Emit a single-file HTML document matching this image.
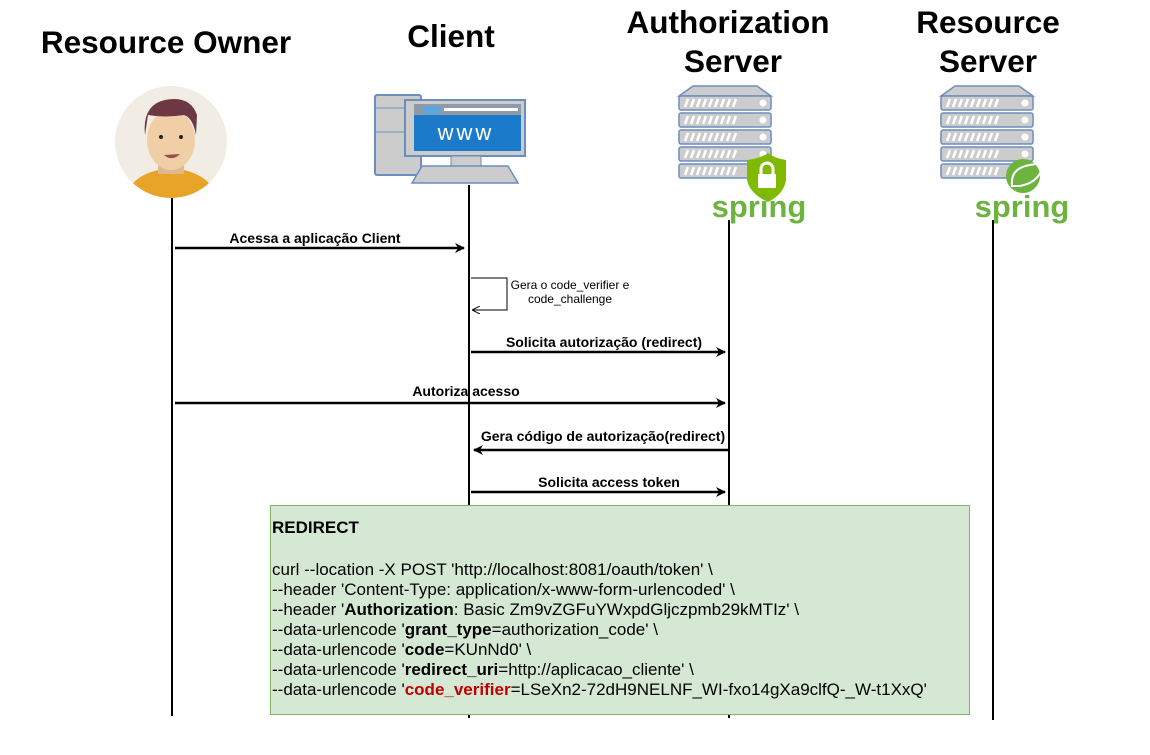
<!DOCTYPE html>
<html><head><meta charset="utf-8"><style>
body{margin:0;background:#fff;width:1150px;height:750px;overflow:hidden;font-family:"Liberation Sans",sans-serif;}
</style></head><body>
<svg width="1150" height="750" xmlns="http://www.w3.org/2000/svg" font-family="Liberation Sans, sans-serif">
<defs>
<marker id="ah" markerWidth="10" markerHeight="10" refX="9" refY="5" orient="auto" markerUnits="userSpaceOnUse"><path d="M0,0 L10,5 L0,10 L3,5 Z" fill="#000"/></marker>
<marker id="ah2" markerWidth="8" markerHeight="8" refX="7" refY="4" orient="auto" markerUnits="userSpaceOnUse"><path d="M0,0 L8,4 L0,8" fill="none" stroke="#000" stroke-width="1"/></marker>
<g id="srv">
<path d="M14,0 L78,0 L92,10 L0,10 Z" fill="#ccc" stroke="#6c8ebf" stroke-width="1.5"/>
<g id="unit"><rect x="0" y="10" width="92" height="14" rx="2" fill="#ccc" stroke="#6c8ebf" stroke-width="1.5"/>
<path d="M6,21 l3,-8 M12,21 l3,-8 M18,21 l3,-8 M24,21 l3,-8 M30,21 l3,-8 M36,21 l3,-8 M42,21 l3,-8 M48,21 l3,-8 M54,21 l3,-8" stroke="#fff" stroke-width="2.5"/>
<circle cx="84" cy="17" r="3.5" fill="#fff"/></g>
<use href="#unit" y="17"/><use href="#unit" y="34"/><use href="#unit" y="51"/><use href="#unit" y="68"/>
</g>
</defs>
<g font-weight="bold" font-size="31.5" text-anchor="middle" fill="#000">
<text x="166" y="53">Resource Owner</text>
<text x="451" y="47">Client</text>
<text x="728" y="33">Authorization</text>
<text x="733" y="72">Server</text>
<text x="988" y="33">Resource</text>
<text x="988" y="72">Server</text>
</g>
<!-- person -->
<circle cx="171" cy="142" r="56" fill="#f2ede4"/>
<clipPath id="pc"><circle cx="171" cy="142" r="56"/></clipPath>
<g clip-path="url(#pc)">
<path d="M125,200 Q130,172 171,168 Q212,172 217,200 Z" fill="#e8a427"/>
<rect x="158" y="150" width="26" height="24" fill="#dfb88f"/>
<ellipse cx="171" cy="140" rx="24" ry="30" fill="#f0cfa6"/>
<path d="M145,135 Q142,105 165,100 Q190,95 197,115 L196,135 Q193,118 184,115 Q165,118 148,115 Z" fill="#6e3744"/>
<circle cx="161" cy="137" r="2" fill="#222"/><circle cx="181" cy="137" r="2" fill="#222"/>
<path d="M164,155 Q172,162 180,154" fill="#9a5048"/>
</g>
<!-- computer -->
<rect x="375" y="95" width="46" height="80" rx="2" fill="#ccc" stroke="#6c8ebf" stroke-width="2"/>
<line x1="375" y1="108" x2="407" y2="108" stroke="#6c8ebf"/><line x1="375" y1="132" x2="407" y2="132" stroke="#6c8ebf"/>
<rect x="405" y="100" width="120" height="56" fill="#ccc" stroke="#6c8ebf" stroke-width="2"/>
<rect x="414" y="104" width="107" height="12" fill="#8e9aa8"/>
<rect x="414" y="115" width="107" height="36" fill="#1c7acb"/>
<ellipse cx="432" cy="110" rx="9" ry="4.5" fill="#5aa7de"/>
<rect x="444" y="108" width="74" height="3" fill="#fff"/>
<text x="466" y="140" font-size="22" fill="#fff" text-anchor="middle" letter-spacing="3">www</text>
<rect x="451" y="156" width="30" height="10" fill="#ccc" stroke="#6c8ebf"/>
<path d="M422,166 L508,166 L518,183 L412,183 Z" fill="#ccc" stroke="#6c8ebf" stroke-width="1.5"/>
<!-- servers -->
<use href="#srv" x="679" y="86"/>
<use href="#srv" x="941" y="86"/>
<path d="M747,160 Q762,158 768,153 Q774,158 786,160 L786,180 Q784,194 768,202 Q750,194 747,180 Z" fill="#7fba00"/>
<rect x="758" y="174" width="18" height="14" rx="1" fill="#fff"/>
<path d="M761,175 L761,169 A6,6 0 0 1 773,169 L773,175" fill="none" stroke="#fff" stroke-width="3"/>
<circle cx="1023" cy="176" r="17" fill="#6db33f"/>
<path d="M1012,186 Q1010,168 1030,165 Q1038,164 1044,160 Q1042,182 1020,186 Z" fill="none" stroke="#fff" stroke-width="2"/>
<text x="759" y="217" font-size="31" font-weight="bold" fill="#6db33f" text-anchor="middle">spring</text>
<text x="1022" y="217" font-size="31" font-weight="bold" fill="#6db33f" text-anchor="middle">spring</text>
<!-- lifelines -->
<g stroke="#000" stroke-width="2">
<line x1="172" y1="198" x2="172" y2="716"/>
<line x1="469" y1="185" x2="469" y2="718"/>
<line x1="729" y1="220" x2="729" y2="718"/>
<line x1="993" y1="220" x2="993" y2="720"/>
</g>
<!-- messages -->
<g stroke="#000" stroke-width="2.5" fill="none">
<line x1="175" y1="248" x2="464" y2="248" marker-end="url(#ah)"/>
<line x1="471" y1="352" x2="725" y2="352" marker-end="url(#ah)"/>
<line x1="175" y1="403" x2="725" y2="403" marker-end="url(#ah)"/>
<line x1="728" y1="450" x2="474" y2="450" marker-end="url(#ah)"/>
<line x1="471" y1="492" x2="725" y2="492" marker-end="url(#ah)"/>
</g>
<path d="M471,278 L507,278 L507,310 L473,310" fill="none" stroke="#000" stroke-width="1" marker-end="url(#ah2)"/>
<g font-size="14" font-weight="bold" text-anchor="middle">
<text x="315" y="243">Acessa a aplicação Client</text>
<text x="604" y="347">Solicita autorização (redirect)</text>
<text x="466" y="396">Autoriza  acesso</text>
<text x="603" y="441">Gera código de autorização(redirect)</text>
<text x="609" y="487">Solicita access token</text>
</g>
<g font-size="12" text-anchor="middle">
<text x="570" y="289">Gera o code_verifier e</text>
<text x="570" y="303">code_challenge</text>
</g>
<!-- box -->
<rect x="270.5" y="505.5" width="699" height="209" fill="#d5e8d4" stroke="#82b366"/>
<g font-size="17" fill="#000">
<text x="272" y="533" font-weight="bold">REDIRECT</text>
<text x="272" y="575">curl --location -X POST 'http://localhost:8081/oauth/token' \</text>
<text x="272" y="595">--header 'Content-Type: application/x-www-form-urlencoded' \</text>
<text x="272" y="615">--header '<tspan font-weight="bold">Authorization</tspan>: Basic Zm9vZGFuYWxpdGljczpmb29kMTIz' \</text>
<text x="272" y="635">--data-urlencode '<tspan font-weight="bold">grant_type</tspan>=authorization_code' \</text>
<text x="272" y="655">--data-urlencode '<tspan font-weight="bold">code</tspan>=KUnNd0' \</text>
<text x="272" y="675">--data-urlencode '<tspan font-weight="bold">redirect_uri</tspan>=http://aplicacao_cliente' \</text>
<text x="272" y="695">--data-urlencode '<tspan font-weight="bold" fill="#c00000">code_verifier</tspan>=LSeXn2-72dH9NELNF_WI-fxo14gXa9clfQ-_W-t1XxQ'</text>
</g>
</svg>
</body></html>
